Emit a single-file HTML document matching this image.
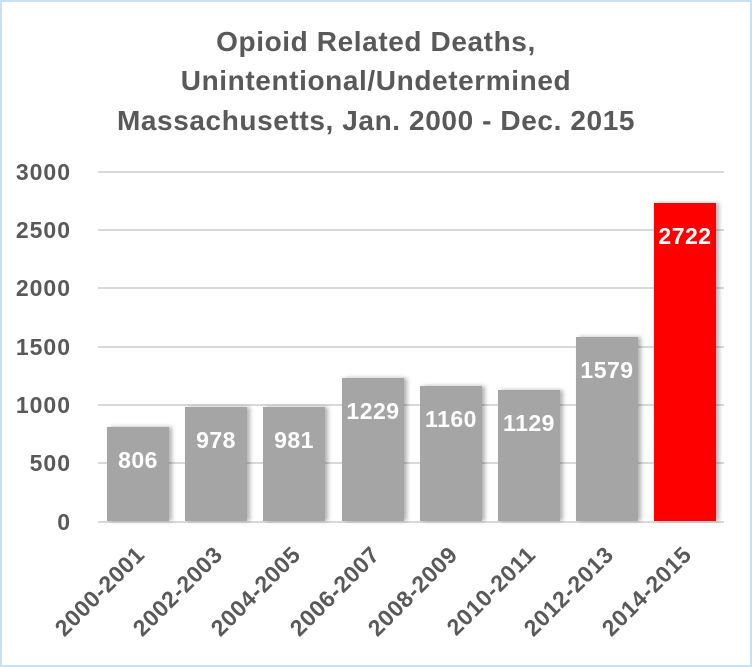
<!DOCTYPE html>
<html><head><style>
html,body{margin:0;padding:0;background:#fff;}
svg{display:block;font-family:"Liberation Sans",sans-serif;}
</style></head><body>
<svg width="752" height="667" xmlns="http://www.w3.org/2000/svg">
<defs><filter id="sh" x="-10%" y="-10%" width="130%" height="120%"><feDropShadow dx="3" dy="0" stdDeviation="2" flood-color="#000" flood-opacity="0.3"/></filter></defs>
<rect x="1" y="1" width="750" height="665" fill="#fff" stroke="#c9dff2" stroke-width="2"/>
<g fill="#595959" font-weight="bold" font-size="28" text-anchor="middle" letter-spacing="0.6">
<text x="376" y="51">Opioid Related Deaths,</text>
<text x="376" y="90">Unintentional/Undetermined</text>
<text x="376" y="130">Massachusetts, Jan. 2000 - Dec. 2015</text>
</g>
<g stroke="#d9d9d9" stroke-width="2">
<line x1="98" x2="724" y1="172" y2="172"/><line x1="98" x2="724" y1="230" y2="230"/>
<line x1="98" x2="724" y1="288" y2="288"/><line x1="98" x2="724" y1="347" y2="347"/>
<line x1="98" x2="724" y1="405" y2="405"/><line x1="98" x2="724" y1="463" y2="463"/>
<line x1="98" x2="724" y1="522" y2="522"/>
</g>
<g fill="#595959" font-weight="bold" font-size="23" text-anchor="end" letter-spacing="1">
<text x="71" y="180">3000</text><text x="71" y="238">2500</text><text x="71" y="296">2000</text>
<text x="71" y="355">1500</text><text x="71" y="413">1000</text><text x="71" y="471">500</text>
<text x="71" y="530">0</text>
</g>
<g filter="url(#sh)">
<rect x="107" y="427" width="62" height="94" fill="#a5a5a5"/>
<rect x="185" y="407" width="62" height="114" fill="#a5a5a5"/>
<rect x="263" y="407" width="62" height="114" fill="#a5a5a5"/>
<rect x="342" y="378" width="62" height="143" fill="#a5a5a5"/>
<rect x="420" y="386" width="62" height="135" fill="#a5a5a5"/>
<rect x="498" y="390" width="62" height="131" fill="#a5a5a5"/>
<rect x="576" y="337" width="62" height="184" fill="#a5a5a5"/>
<rect x="654" y="203" width="62" height="318" fill="#ff0000"/>
</g>
<g fill="#fff" font-weight="bold" font-size="23" text-anchor="middle" letter-spacing="0.5">
<text x="138" y="468">806</text><text x="216" y="448">978</text><text x="294" y="448">981</text>
<text x="373" y="419">1229</text><text x="451" y="427">1160</text><text x="529" y="431">1129</text>
<text x="607" y="378">1579</text><text x="685" y="244">2722</text>
</g>
<g fill="#595959" font-weight="bold" font-size="23" text-anchor="end" letter-spacing="0.6">
<text transform="translate(146,556) rotate(-45)">2000-2001</text>
<text transform="translate(224,556) rotate(-45)">2002-2003</text>
<text transform="translate(302,556) rotate(-45)">2004-2005</text>
<text transform="translate(381,556) rotate(-45)">2006-2007</text>
<text transform="translate(459,556) rotate(-45)">2008-2009</text>
<text transform="translate(537,556) rotate(-45)">2010-2011</text>
<text transform="translate(615,556) rotate(-45)">2012-2013</text>
<text transform="translate(693,556) rotate(-45)">2014-2015</text>
</g>
</svg>
</body></html>
